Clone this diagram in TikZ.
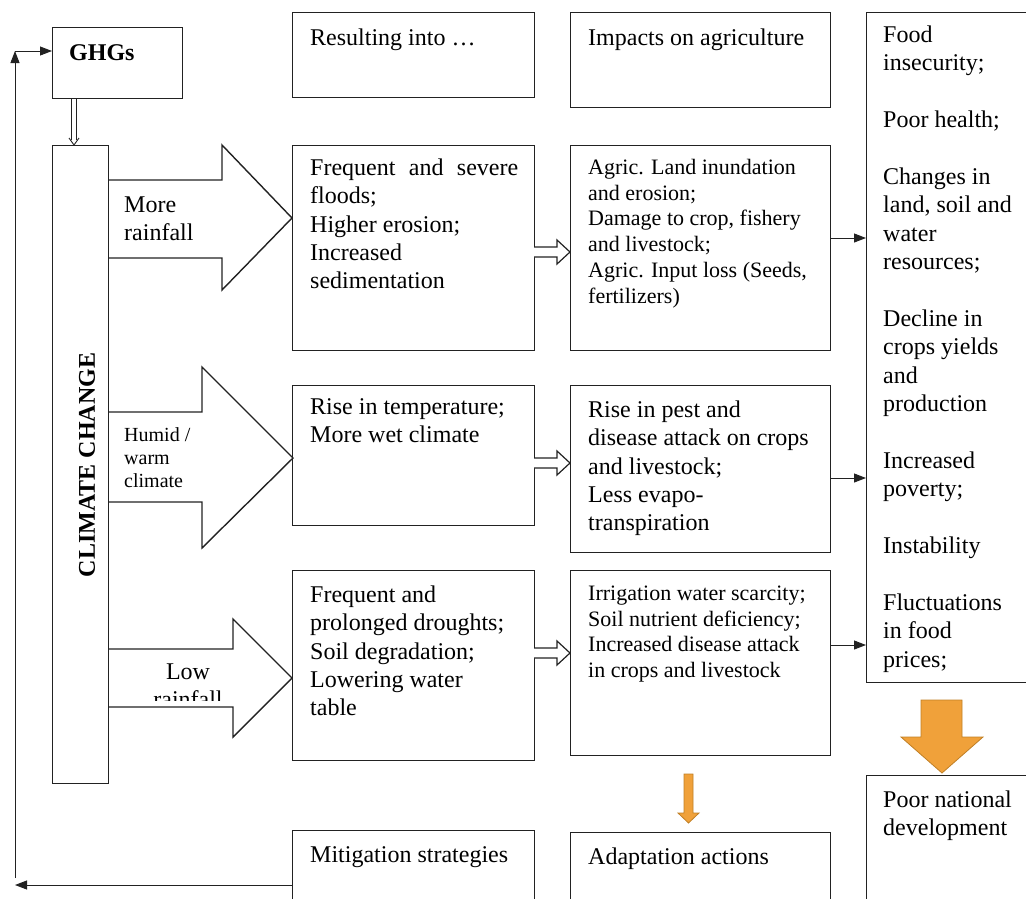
\documentclass[tikz,border=0pt]{standalone}
\usepackage{fontspec}
\setmainfont{Liberation Serif}
\usetikzlibrary{arrows.meta}
\definecolor{ln}{HTML}{222222}
\definecolor{org}{HTML}{F0A13A}
\definecolor{orgd}{HTML}{C07F25}
\newcommand{\fl}{\rule{0pt}{24pt}}
\begin{document}
\begin{tikzpicture}[x=1pt,y=-1pt,
  box/.style={draw=ln,line width=1.4pt,rectangle,inner sep=0pt,anchor=north west},
  bigarrow/.style={draw=ln,line width=1.4pt,fill=white,line join=miter},
  hollow/.style={draw=ln,line width=1.2pt,fill=white},
  orangearrow/.style={draw=orgd,line width=0.8pt,fill=org},
  thinarrow/.style={draw=ln,line width=1pt,-{Triangle[length=12pt,width=9pt]}},
  txt/.style={inner sep=0pt,align=left,anchor=north west,font=\fontsize{24}{28.4}\selectfont},
  txtm/.style={inner sep=0pt,align=left,anchor=north west,font=\fontsize{22}{25.8}\selectfont},
  txts/.style={inner sep=0pt,align=left,anchor=north west,font=\fontsize{20}{23}\selectfont}]
\useasboundingbox (0,0) rectangle (1026,898);
\clip (0,0) rectangle (1026,898);
% big arrows
\draw[bigarrow] (108,180) -- (222,180) -- (222,145) -- (292,218) -- (222,290) -- (222,258) -- (108,258);
\draw[bigarrow] (108,412) -- (202,412) -- (202,367) -- (293,458) -- (202,548) -- (202,502) -- (108,502);
\draw[bigarrow] (108,649) -- (233,649) -- (233,619) -- (292,678) -- (233,737) -- (233,707) -- (108,707);
% boxes
\node[box,minimum width=130pt,minimum height=71pt] (ghg) at (52,27) {};
\node[box,minimum width=56pt,minimum height=638pt] (cc) at (52,145) {};
\node[box,minimum width=242pt,minimum height=85pt] (r0) at (292,12) {};
\node[box,minimum width=242pt,minimum height=205pt] (r1) at (292,145) {};
\node[box,minimum width=242pt,minimum height=140pt] (r2) at (292,385) {};
\node[box,minimum width=242pt,minimum height=190pt] (r3) at (292,570) {};
\node[box,minimum width=242pt,minimum height=110pt] (mit) at (292,830) {};
\node[box,minimum width=260pt,minimum height=95pt] (i0) at (570,12) {};
\node[box,minimum width=260pt,minimum height=205pt] (i1) at (570,145) {};
\node[box,minimum width=260pt,minimum height=167pt] (i2) at (570,385) {};
\node[box,minimum width=260pt,minimum height=185pt] (i3) at (570,570) {};
\node[box,minimum width=260pt,minimum height=110pt] (ada) at (570,832) {};
\node[box,minimum width=200pt,minimum height=670pt] (f0) at (866,12) {};
\node[box,minimum width=200pt,minimum height=150pt] (pnd) at (866,775) {};
% labels
\node[txt,font=\bfseries\fontsize{24}{28.4}\selectfont] (tghg) at (69,60-24) {\fl GHGs};
\node[inner sep=0pt,rotate=90,font=\bfseries\fontsize{24}{28.4}\selectfont] (tcc) at (87,465) {CLIMATE CHANGE};
\node[txt] (tmr) at (124,212-24) {\fl More\\rainfall};
\node[txts] (thw) at (124,441-24) {\fl Humid /\\warm\\climate};
\begin{scope}
\clip (109,649) rectangle (232,700.5);
\node[txt,align=center,anchor=north] (tlr) at (188,679-24) {\fl Low\\rainfall};
\end{scope}
% double arrow GHGs -> CC
\draw[ln,line width=0.9pt] ([xshift=19.5pt]ghg.south west) -- ([xshift=19.5pt,yshift=5pt]cc.north west);
\draw[ln,line width=0.9pt] ([xshift=24.5pt]ghg.south west) -- ([xshift=24.5pt,yshift=5pt]cc.north west);
\draw[ln,line width=0.9pt] ([xshift=17pt,yshift=7pt]cc.north west) -- ([xshift=22pt]cc.north west) -- ([xshift=27pt,yshift=7pt]cc.north west);
% texts
\node[txt] (tr0) at (310,45-24) {\fl Resulting into …};
\node[txt] (ti0) at (588,45-24) {\fl Impacts on agriculture};
\node[txt] (tr1) at (310,175-24) {\fl\makebox[208pt][s]{Frequent and severe}\\floods;\\Higher erosion;\\Increased\\sedimentation};
\node[txt] (tr2) at (310,414-24) {\fl Rise in temperature;\\More wet climate};
\node[txt] (tr3) at (310,602-24) {\fl Frequent and\\prolonged droughts;\\Soil degradation;\\Lowering water\\table};
\node[txt] (tmit) at (310,862-24) {\fl Mitigation strategies};
\node[txtm] (ti1) at (588,174-24) {\fl Agric. Land inundation\\and erosion;\\Damage to crop, fishery\\and livestock;\\Agric. Input loss (Seeds,\\fertilizers)};
\node[txt] (ti2) at (588,417-24) {\fl Rise in pest and\\disease attack on crops\\and livestock;\\Less evapo-\\transpiration};
\node[txtm] (ti3) at (588,600-24) {\fl Irrigation water scarcity;\\Soil nutrient deficiency;\\Increased disease attack\\in crops and livestock};
\node[txt] (tada) at (588,864-24) {\fl Adaptation actions};
\node[txt] (tf0) at (883,42-24) {\fl Food\\insecurity;\\[28.4pt]Poor health;\\[28.4pt]Changes in\\land, soil and\\water\\resources;\\[28.4pt]Decline in\\crops yields\\and\\production\\[28.4pt]Increased\\poverty;\\[28.4pt]Instability\\[28.4pt]Fluctuations\\in food\\prices;};
\node[txt] (tpnd) at (883,807-24) {\fl Poor national\\development};
% hollow arrows col2 -> col3
\draw[hollow] (534,247) -- (557,247) -- (557,240) -- (570,252) -- (557,264) -- (557,257) -- (534,257);
\draw[hollow] (534,458) -- (557,458) -- (557,451) -- (570,463) -- (557,475) -- (557,468) -- (534,468);
\draw[hollow] (534,648) -- (557,648) -- (557,641) -- (570,653) -- (557,665) -- (557,658) -- (534,658);
% thin arrows col3 -> col4
\draw[thinarrow] (i1.east |- 0,238) -- (f0.west |- 0,238);
\draw[thinarrow] (i2.east |- 0,478) -- (f0.west |- 0,478);
\draw[thinarrow] (i3.east |- 0,645) -- (f0.west |- 0,645);
% orange arrows
\draw[orangearrow] (921,700) -- (962,700) -- (962,737) -- (983,737) -- (942,773) -- (901,737) -- (921,737) -- cycle;
\draw[orangearrow] (684,774) -- (693,774) -- (693,813) -- (699,813) -- (688.5,823) -- (678,813) -- (684,813) -- cycle;
% feedback loop
\coordinate (fbb) at (15,878);
\coordinate (fbt) at (15,51);
\coordinate (fbl) at (15,885);
\draw[thinarrow,line width=0.9pt] (fbb) -- (fbt);
\draw[thinarrow,line width=0.9pt] (fbt) -- (ghg.west |- fbt);
\draw[thinarrow,line width=0.9pt] (mit.west |- fbl) -- (fbl);
\end{tikzpicture}
\end{document}
